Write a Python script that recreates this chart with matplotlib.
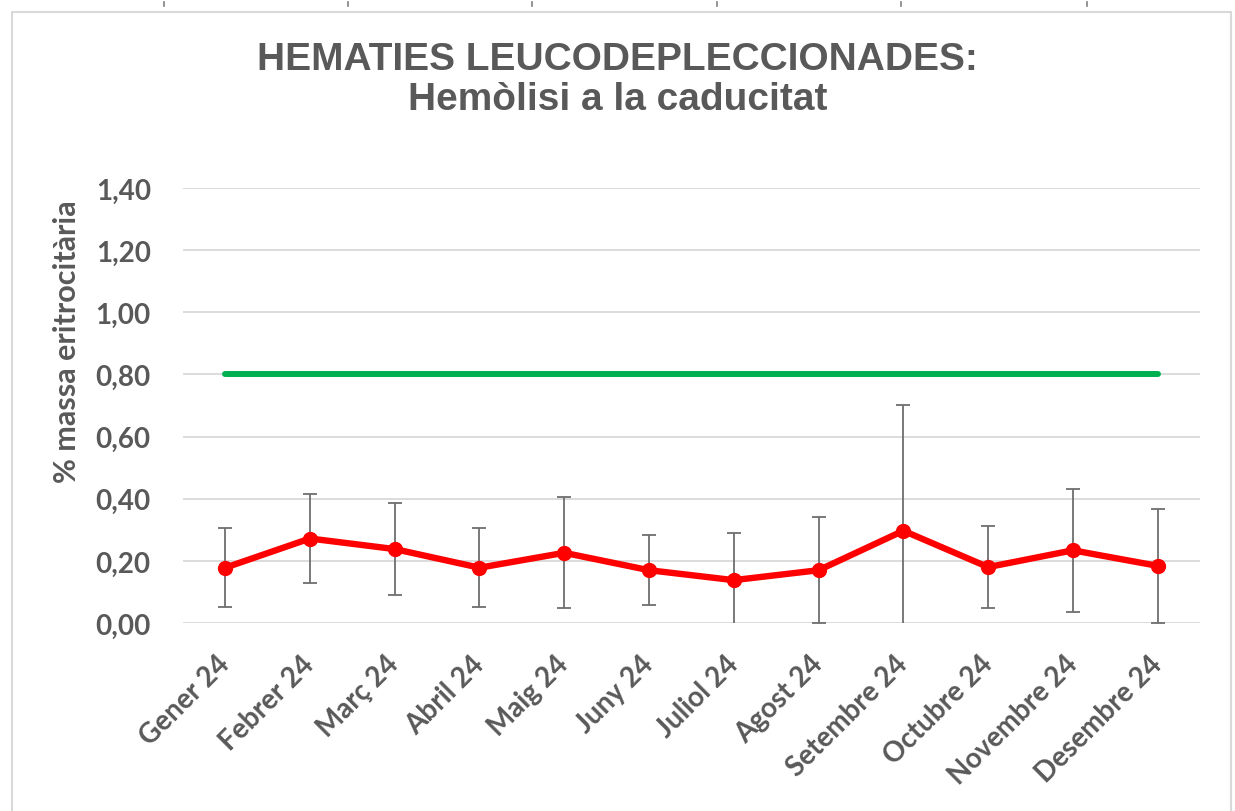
import numpy as np
import matplotlib
matplotlib.use('Agg')
from matplotlib import pyplot as plt
from matplotlib.lines import Line2D
from matplotlib.patches import Rectangle
from matplotlib.transforms import ScaledTranslation

months = ['Gener 24', 'Febrer 24', 'Març 24', 'Abril 24', 'Maig 24', 'Juny 24',
          'Juliol 24', 'Agost 24', 'Setembre 24', 'Octubre 24', 'Novembre 24', 'Desembre 24']
hemolisi = [0.178, 0.272, 0.238, 0.178, 0.226, 0.170,
            0.138, 0.170, 0.297, 0.180, 0.234, 0.184]
desv = [0.128, 0.142, 0.147, 0.128, 0.178, 0.113,
        0.151, 0.171, 0.406, 0.133, 0.198, 0.183]
limit = [0.80] * len(months)
yticks = [0.0, 0.2, 0.4, 0.6, 0.8, 1.0, 1.2, 1.4]

plt.rcParams['font.family'] = ['Liberation Sans', 'DejaVu Sans']
grey = '#595959'
tick_font = ['Lato', 'DejaVu Sans']

fig = plt.figure(figsize=(12.35, 8.12), dpi=100)
ax = fig.add_axes([0.148, 0.2315, 0.8237, 0.5357])

x = np.arange(len(months))
ax.plot(x, limit, color='#00B050', lw=4.3, solid_capstyle='round', zorder=2)
ax.errorbar(x, hemolisi, yerr=desv, fmt='none', ecolor='#6E6E6E', elinewidth=1.3,
            capsize=4.8, capthick=1.3, zorder=3)
ax.plot(x, hemolisi, color='#FF0000', lw=4.6, marker='o', markersize=10, zorder=4)

ax.set_xlim(-0.5, len(months) - 0.5)
ax.set_ylim(0, 1.4)
ax.set_yticks(yticks)
ax.set_yticklabels(['{:.2f}'.format(v).replace('.', ',') for v in yticks])
ax.set_xticks(x)
ax.set_xticklabels(months, rotation=45, ha='right', rotation_mode='anchor')
ax.tick_params(length=0, labelsize=20, labelcolor=grey)
ax.tick_params(axis='y', pad=23)
ax.tick_params(axis='x', pad=8)
for lab in ax.get_xticklabels() + ax.get_yticklabels():
    lab.set_fontweight('bold')
    lab.set_family(tick_font)
shift = ScaledTranslation(-9 / 100, -16 / 100, fig.dpi_scale_trans)
for lab in ax.get_xticklabels():
    lab.set_transform(lab.get_transform() + shift)
ax.yaxis.grid(True, color='#D9D9D9', lw=1.3)
ax.set_axisbelow(True)
for s in ax.spines.values():
    s.set_visible(False)

ax.set_ylabel('% massa eritrocitària', fontsize=22, fontweight='bold', color=grey, family=tick_font)
ax.yaxis.set_label_coords(-0.100, 0.648)

fig.text(0.5, 0.948, 'HEMATIES LEUCODEPLECCIONADES:\nHemòlisi a la caducitat', ha='center', va='top',
         fontsize=28, fontweight='bold', color=grey, linespacing=1.15)

# chart frame
fig.add_artist(Rectangle((0.0097, -0.01), 0.987, 0.994, transform=fig.transFigure,
                         fill=False, edgecolor='#D9D9D9', lw=1.5))
for px in [164, 348, 532, 717, 901, 1087]:
    fig.add_artist(Line2D([px / 1235, px / 1235], [0.991, 0.996], transform=fig.transFigure,
                          color='#808080', lw=1.2))

fig.savefig('out.png', dpi=100)
